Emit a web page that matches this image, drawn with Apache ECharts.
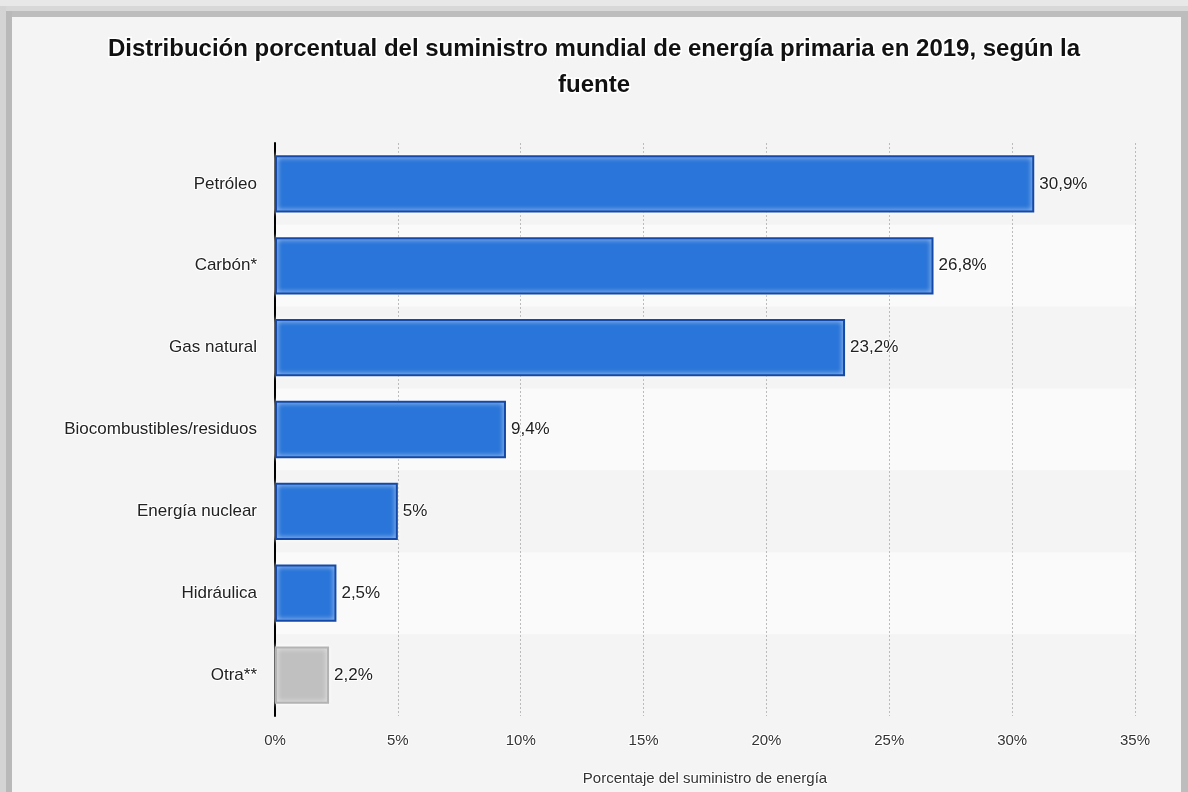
<!DOCTYPE html>
<html>
<head>
<meta charset="utf-8">
<script src="https://cdn.jsdelivr.net/npm/echarts@6/dist/echarts.min.js"></script>
<style>
html,body{margin:0;padding:0;background:#f4f4f4;}
#chart{width:1188px;height:792px;}
</style>
</head>
<body>
<div id="chart"></div>
<script>
const categories = ['Petróleo', 'Carbón*', 'Gas natural', 'Biocombustibles/residuos', 'Energía nuclear', 'Hidráulica', 'Otra**'];
const values = [30.9, 26.8, 23.2, 9.4, 5, 2.5, 2.2];
const barColors = ['#2a75d9', '#2a75d9', '#2a75d9', '#2a75d9', '#2a75d9', '#2a75d9', '#c0c0c0'];
const borderColors = ['#1449a8', '#1449a8', '#1449a8', '#1449a8', '#1449a8', '#1449a8', '#b3b3b3'];
const xTicks = [0, 5, 10, 15, 20, 25, 30, 35];

const FONT = "'Liberation Sans', Arial, Helvetica, sans-serif";
const chart = echarts.init(document.getElementById('chart'));
const fmt = v => String(v).replace('.', ',') + '%';

chart.setOption({
  backgroundColor: '#f4f4f4',
  animation: false,
  textStyle: { fontFamily: FONT },
  title: {
    text: 'Distribución porcentual del suministro mundial de energía primaria en 2019, según la\nfuente',
    left: 'center',
    top: 26,
    textStyle: {
      fontSize: 24, fontWeight: 'bold', color: '#111', lineHeight: 36,
      textBorderColor: '#ffffff', textBorderWidth: 3,
      fontFamily: FONT
    }
  },
  graphic: [
    { type: 'rect', shape: { x: 0, y: 0, width: 1188, height: 6 }, style: { fill: '#e8e8e8' }, z: 100 },
    { type: 'rect', shape: { x: 0, y: 6, width: 1188, height: 5 }, style: { fill: '#d8d8d8' }, z: 100 },
    { type: 'rect', shape: { x: 6, y: 11, width: 1175, height: 6 }, style: { fill: '#bdbdbd' }, z: 100 },
    { type: 'rect', shape: { x: 0, y: 6, width: 6, height: 786 }, style: { fill: '#d4d4d4' }, z: 100 },
    { type: 'rect', shape: { x: 6, y: 11, width: 6, height: 781 }, style: { fill: '#b9b9b9' }, z: 100 },
    { type: 'rect', shape: { x: 1181, y: 11, width: 7, height: 781 }, style: { fill: '#bdbdbd' }, z: 100 }
  ],
  grid: { left: 275, right: 53, top: 143, bottom: 73, containLabel: false },
  xAxis: {
    type: 'value',
    min: 0, max: 35, interval: 5,
    axisLine: { show: false },
    axisTick: { show: false },
    axisLabel: {
      formatter: v => (xTicks.includes(v) ? v + '%' : ''),
      color: '#333', fontSize: 15, margin: 17, fontFamily: FONT,
      textBorderColor: '#fff', textBorderWidth: 2
    },
    splitLine: { show: true, lineStyle: { color: '#bbbbbb', type: [2, 2], width: 1 } },
    name: 'Porcentaje del suministro de energía',
    nameLocation: 'middle',
    nameGap: 55,
    nameTextStyle: { color: '#333', fontSize: 15, fontFamily: FONT, textBorderColor: '#fff', textBorderWidth: 2 }
  },
  yAxis: {
    type: 'category',
    data: categories,
    inverse: true,
    axisLine: { show: true, lineStyle: { color: '#000', width: 2 } },
    axisTick: { show: false },
    axisLabel: {
      color: '#222', fontSize: 17, margin: 18, fontFamily: FONT,
      textBorderColor: '#fff', textBorderWidth: 2
    },
    splitLine: { show: false },
    splitArea: { show: true, areaStyle: { color: ['#f4f4f4', '#fafafa'] } }
  },
  series: [{
    type: 'bar',
    barCategoryGap: '30%',
    data: values.map((v, i) => ({
      value: v,
      itemStyle: {
        color: barColors[i], borderColor: borderColors[i], borderWidth: 2,
        shadowColor: 'rgba(255,255,255,0.95)', shadowBlur: 5
      }
    })),
    label: {
      show: true, position: 'right', distance: 5,
      formatter: p => fmt(p.value),
      color: '#222', fontSize: 17, fontFamily: FONT,
      textBorderColor: '#fff', textBorderWidth: 2
    }
  }]
});
</script>
</body>
</html>
